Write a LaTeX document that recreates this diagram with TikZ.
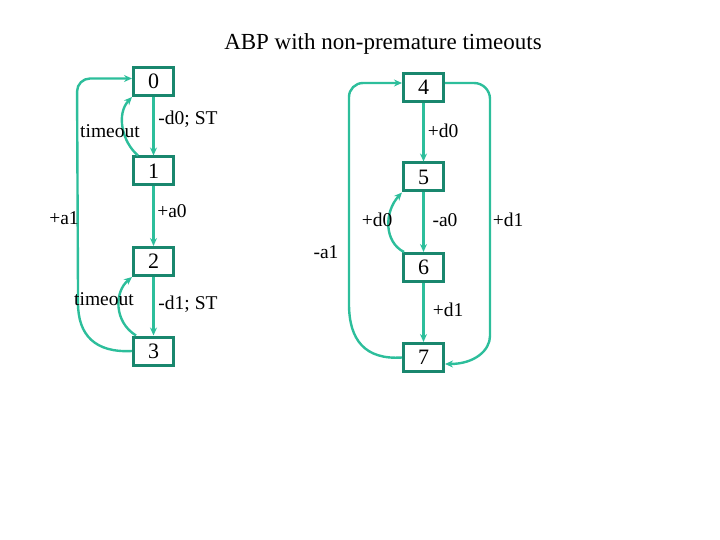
\documentclass[tikz,border=0pt]{standalone}
\usepackage{fontspec}
\setmainfont{Liberation Serif}
\usetikzlibrary{arrows.meta}
\definecolor{boxc}{RGB}{25,135,110}
\definecolor{linec}{RGB}{45,190,155}
\begin{document}
\begin{tikzpicture}[x=1pt,y=-1pt,
  state/.style={draw=boxc,line width=3pt,minimum width=40pt,minimum height=28pt,inner sep=0pt,font=\fontsize{22}{24}\selectfont},
  conn/.style={draw=linec,line width=2.4pt,-{Stealth[length=8pt,width=7pt]}},
  lab/.style={font=\fontsize{19.5}{21}\selectfont,inner sep=0pt}]
\useasboundingbox (0,0) rectangle (720,540);
\node[font=\fontsize{23}{25}\selectfont] (title) at (383,44) {ABP with non-premature timeouts};
\node[state] (b0) at (153.5,81.5) {0};
\node[state] (b1) at (153.5,171) {1};
\node[state] (b2) at (153.5,261.5) {2};
\node[state] (b3) at (153.5,351) {3};
\node[state] (b4) at (423.5,87.5) {4};
\node[state] (b5) at (423.5,177) {5};
\node[state] (b6) at (423.5,267.5) {6};
\node[state] (b7) at (423.5,357.5) {7};
% left machine
\draw[conn] (b0) -- (b1);
\draw[conn] (b1) -- (b2);
\draw[conn] (b2) -- (b3);
\draw[conn] ([xshift=6pt]b1.north west) .. controls (122,142) and (116,114) .. (b0.south west);
\draw[conn] ([xshift=4pt]b3.north west) .. controls (114,322) and (114,292) .. (b2.south west);
\draw[conn,rounded corners=13pt] (b3.west) .. controls (95,353) and (78,335) .. (78,290) -- (77,78.5) -- ([yshift=3pt]b0.west);
% right machine
\draw[conn] (b4) -- (b5);
\draw[conn] (b5) -- (b6);
\draw[conn] (b6) -- (b7);
\draw[conn] ([xshift=2pt]b6.north west) .. controls (384,242) and (384,212) .. (b5.south west);
\draw[conn,rounded corners=14pt] (b7.west) .. controls (365,360) and (349,340) .. (349,290) -- (349,83) -- ([yshift=4.5pt]b4.west);
\draw[conn,rounded corners=16pt] ([yshift=4.5pt]b4.east) -- (490,83) -- (490,320) .. controls (490,350) and (475,364) .. ([yshift=-6.5pt]b7.east);
% labels
\node[lab] (l1) at (110,131) {timeout};
\node[lab] (l2) at (188,119) {-d0; ST};
\node[lab] (l3) at (172,211) {+a0};
\node[lab] (l4) at (64,218) {+a1};
\node[lab] (l5) at (104,299) {timeout};
\node[lab] (l6) at (188,304) {-d1; ST};
\node[lab] (l7) at (443,131) {+d0};
\node[lab] (l8) at (377,220) {+d0};
\node[lab] (l9) at (445,220) {-a0};
\node[lab] (l10) at (508,220) {+d1};
\node[lab] (l11) at (326,252) {-a1};
\node[lab] (l12) at (448,310) {+d1};
\end{tikzpicture}
\end{document}
